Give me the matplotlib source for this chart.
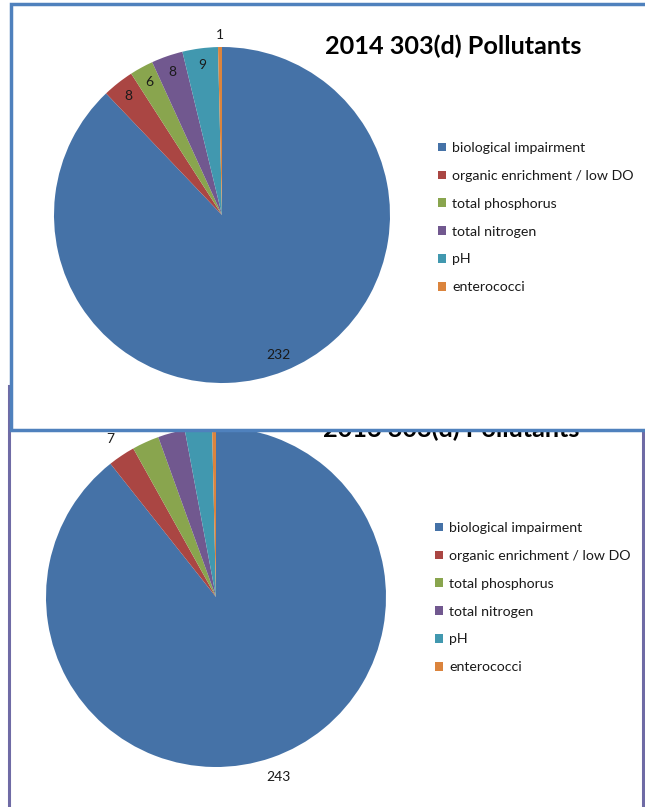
import matplotlib
matplotlib.use("Agg")
import matplotlib.pyplot as plt
from matplotlib.patches import Rectangle
import numpy as np

plt.rcParams['font.family'] = ['Lato', 'DejaVu Sans']

categories = ["biological impairment", "organic enrichment / low DO", "total phosphorus",
              "total nitrogen", "pH", "enterococci"]
values_2014 = [232, 8, 6, 8, 9, 1]
values_2016 = [243, 7, 7, 7, 7, 1]
title_2014 = "2014 303(d) Pollutants"
title_2016 = "2016 303(d) Pollutants"
colors = ["#4572A7", "#AA4643", "#89A54E", "#71588F", "#4198AF", "#DB843D"]

W, H = 645, 807
fig = plt.figure(figsize=(W / 100, H / 100), dpi=100)


def px_axes(x0, y0, x1, y1, z):
    ax = fig.add_axes([x0 / W, 1 - y1 / H, (x1 - x0) / W, (y1 - y0) / H])
    ax.set_zorder(z)
    return ax


def draw_pie(ax, values, label_r, label_show):
    wedges, _ = ax.pie(values, colors=colors, startangle=90, counterclock=False,
                       wedgeprops=dict(linewidth=0))
    ax.set_xlim(-1, 1)
    ax.set_ylim(-1, 1)
    ax.set_aspect('equal')
    for w, v, r, show in zip(wedges, values, label_r, label_show):
        if not show:
            continue
        ang = np.deg2rad((w.theta1 + w.theta2) / 2)
        ax.text(r * np.cos(ang), r * np.sin(ang), str(v), ha='center', va='center',
                fontsize=10, color='#1a1a1a')
    return wedges


def draw_legend(ax, wedges, x, y, fs):
    ax.legend(wedges, categories, loc='upper left', bbox_to_anchor=(x / W, 1 - y / H),
              bbox_transform=fig.transFigure, frameon=False, fontsize=fs,
              handlelength=0.55, handleheight=0.55, handletextpad=0.45,
              labelspacing=1.12, borderpad=0, borderaxespad=0, labelcolor='#1a1a1a')


# ---------- bottom panel (2016) ----------
bgB = px_axes(0, 0, W, H, 1)
bgB.set_xlim(0, W)
bgB.set_ylim(H, 0)
bgB.axis('off')
bgB.add_patch(Rectangle((9, 386), 634, 460, facecolor='white', edgecolor='#6F6BA5', linewidth=2.2))
bgB.text(323, 429, title_2016, fontsize=18.2, fontweight='bold', va='center', ha='left', color='black')

pieB = px_axes(216 - 170, 597 - 170, 216 + 170, 597 + 170, 2)
wB = draw_pie(pieB, values_2016, [1.12] * 6, [True] * 6)
draw_legend(pieB, wB, 435, 522, 10.2)

# ---------- top panel (2014) ----------
bgT = px_axes(0, 0, W, H, 3)
bgT.set_xlim(0, W)
bgT.set_ylim(H, 0)
bgT.axis('off')
bgT.patch.set_alpha(0)
bgT.add_patch(Rectangle((11, 3.5), 700, 426, facecolor='white', edgecolor='#4F81BD', linewidth=2.5))
bgT.text(325, 46, title_2014, fontsize=18.2, fontweight='bold', va='center', ha='left', color='black')

pieT = px_axes(222 - 168, 215 - 168, 222 + 168, 215 + 168, 4)
wT = draw_pie(pieT, values_2014, [0.9, 0.9, 0.9, 0.9, 0.9, 1.07], [True] * 6)
draw_legend(pieT, wT, 438, 142, 10.2)

fig.savefig("out.png", dpi=100)
